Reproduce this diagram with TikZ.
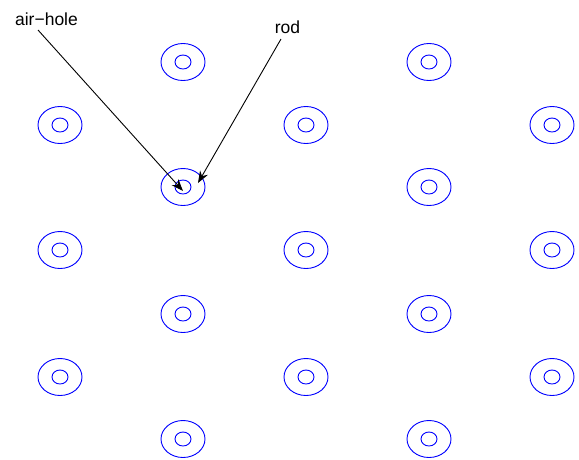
\documentclass[tikz,border=0pt]{standalone}
\usepackage{fontspec}
\setmainfont{Liberation Sans}
\usetikzlibrary{arrows.meta,shapes.geometric}
\tikzset{
  outerring/.style={draw=blue, line width=0.9pt, ellipse, minimum width=44pt, minimum height=37pt, inner sep=0pt},
  innerring/.style={draw=blue, line width=0.9pt, ellipse, minimum width=16pt, minimum height=14pt, inner sep=0pt},
  lbl/.style={font=\fontsize{17.5}{20}\selectfont, inner sep=1pt, anchor=base},
  ptr/.style={-{Stealth[length=12pt,width=9pt,inset=4pt]}, line width=0.9pt}
}
\begin{document}
\begin{tikzpicture}[x=1pt,y=-1pt]
\useasboundingbox (0,0) rectangle (579,459);
\foreach \cx/\cy [count=\i] in {183/62,183/187,183/314,183/439,429/62,429/187,429/314,429/439,
  60/125,60/250,60/377,306/125,306/250,306/377,552/125,552/250,552/377}{
  \node[outerring] (o\i) at (\cx,\cy) {};
  \node[innerring] (h\i) at (\cx,\cy) {};
}
\node[lbl] (air) at (46.5,25) {air−hole};
\node[lbl] (rod) at (287.5,33) {rod};
\coordinate (airstart) at (38,30);
\coordinate (rodstart) at (281,39);
\coordinate (airend) at (183,191);
\coordinate (rodend) at (198,183);
\draw[ptr] (airstart) -- (airend);
\draw[ptr] (rodstart) -- (rodend);
\end{tikzpicture}
\end{document}
